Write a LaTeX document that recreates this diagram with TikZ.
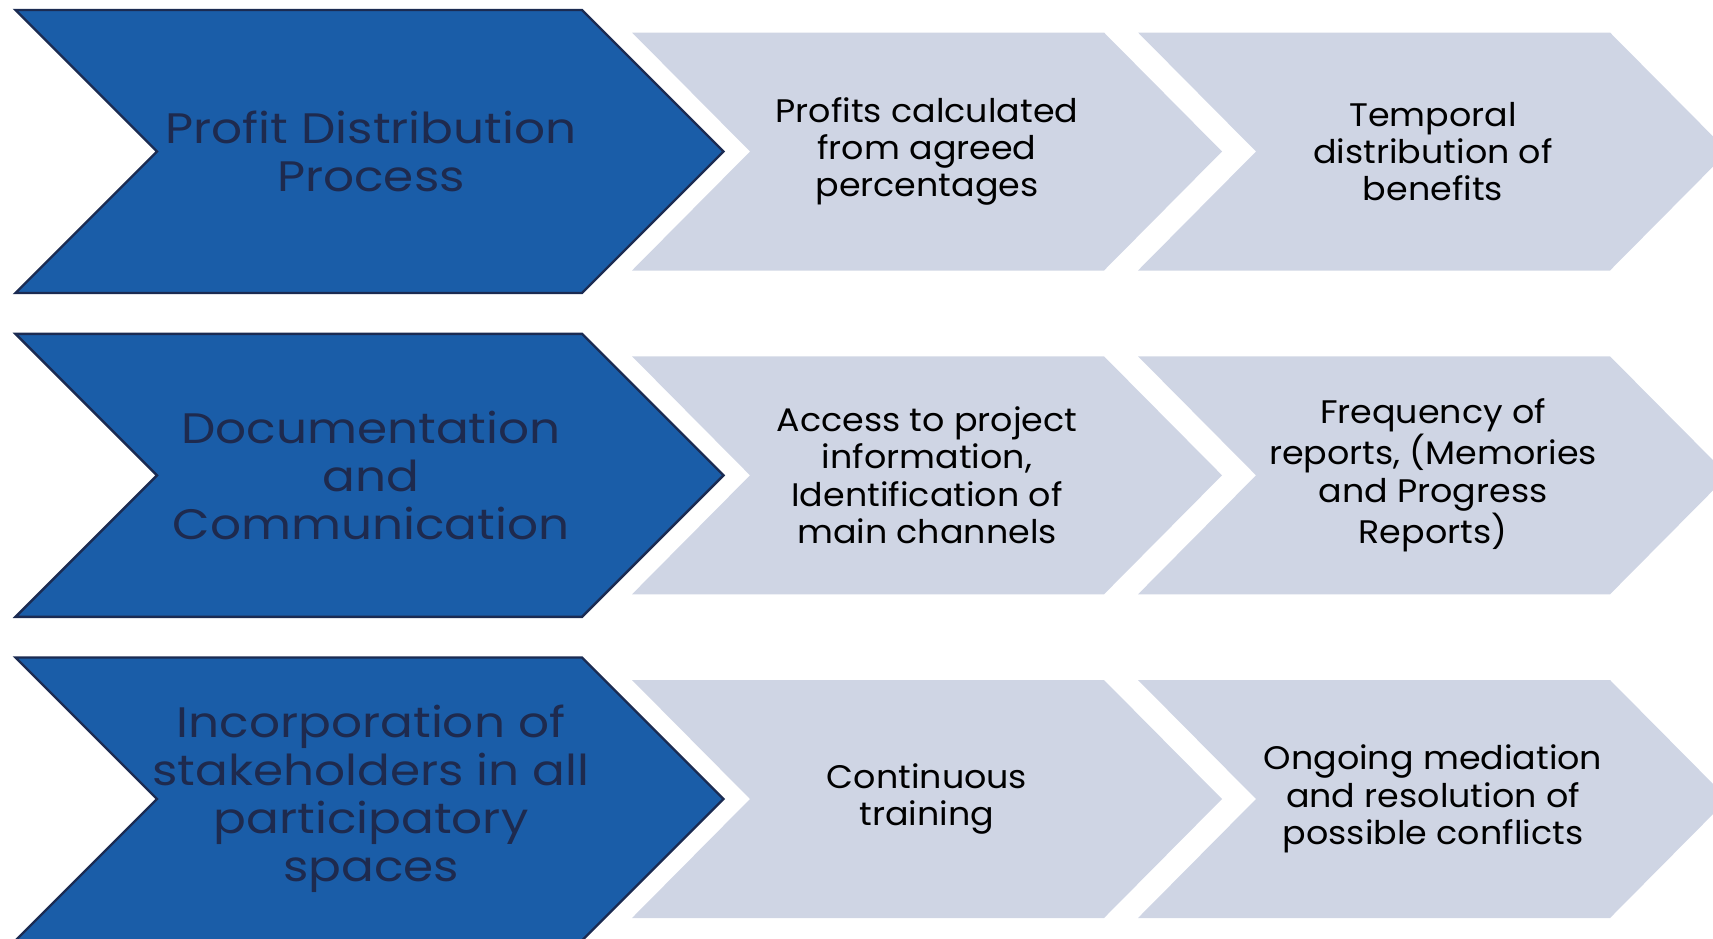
\documentclass[tikz,border=0pt]{standalone}
\usepackage{fontspec}
\setmainfont{Poppins}
\newfontfamily\headfont[FakeStretch=1.14]{Poppins}
\newfontfamily\itemfont[FakeStretch=1.07]{Poppins}
\definecolor{stageblue}{HTML}{1A5DA8}
\definecolor{stageedge}{HTML}{1B2B52}
\definecolor{stagetext}{HTML}{1E2A4E}
\definecolor{stepgrey}{HTML}{CFD5E4}
\begin{document}
\begin{tikzpicture}[x=0.5pt,y=-0.5pt,
  headfill/.style={fill=stageblue,draw=stageedge,line width=1.2pt,line join=miter},
  itemfill/.style={fill=stepgrey},
  headtext/.style={align=center,text=stagetext,font=\headfont\fontsize{21.3}{24}\selectfont},
  itemtext/.style={align=center,text=black,font=\itemfont\fontsize{16.3}{18.7}\selectfont}]
\useasboundingbox (0,0) rectangle (1713,938);
\foreach \cy/\id in {151.5/a,475.3/b,799/c}{
  % main stage chevron
  \path[headfill] (15.5,\cy-141.5) -- (582,\cy-141.5) -- (723.5,\cy) -- (582,\cy+141.5)
     -- (15.5,\cy+141.5) -- (157,\cy) -- cycle;
  % first step chevron
  \path[itemfill] (632,\cy-119) -- (1104,\cy-119) -- (1222,\cy) -- (1104,\cy+119)
     -- (632,\cy+119) -- (750,\cy) -- cycle;
  % second step chevron
  \path[itemfill] (1138,\cy-119) -- (1610,\cy-119) -- (1728,\cy) -- (1610,\cy+119)
     -- (1138,\cy+119) -- (1256,\cy) -- cycle;
  \coordinate (h\id) at (371,\cy);
  \coordinate (s\id) at (927,\cy);
  \coordinate (t\id) at (1433,\cy);
}
\node[headtext] (head1) at (ha) {Profit Distribution\\Process};
\node[headtext] (head2) at (hb) {Documentation\\and\\Communication};
\node[headtext] (head3) at (hc) {Incorporation of\\stakeholders in all\\participatory\\spaces};
\node[itemtext] (step1a) at (sa) {Profits calculated\\from agreed\\percentages};
\node[itemtext] (step1b) at (ta) {Temporal\\distribution of\\benefits};
\node[itemtext] (step2a) at (sb) {Access to project\\information,\\Identification of\\main channels};
\node[itemtext] (step2b) at (tb) {Frequency of\\reports, (Memories\\and Progress\\Reports)};
\node[itemtext] (step3a) at (sc) {Continuous\\training};
\node[itemtext] (step3b) at (tc) {Ongoing mediation\\and resolution of\\possible conflicts};
\end{tikzpicture}
\end{document}
